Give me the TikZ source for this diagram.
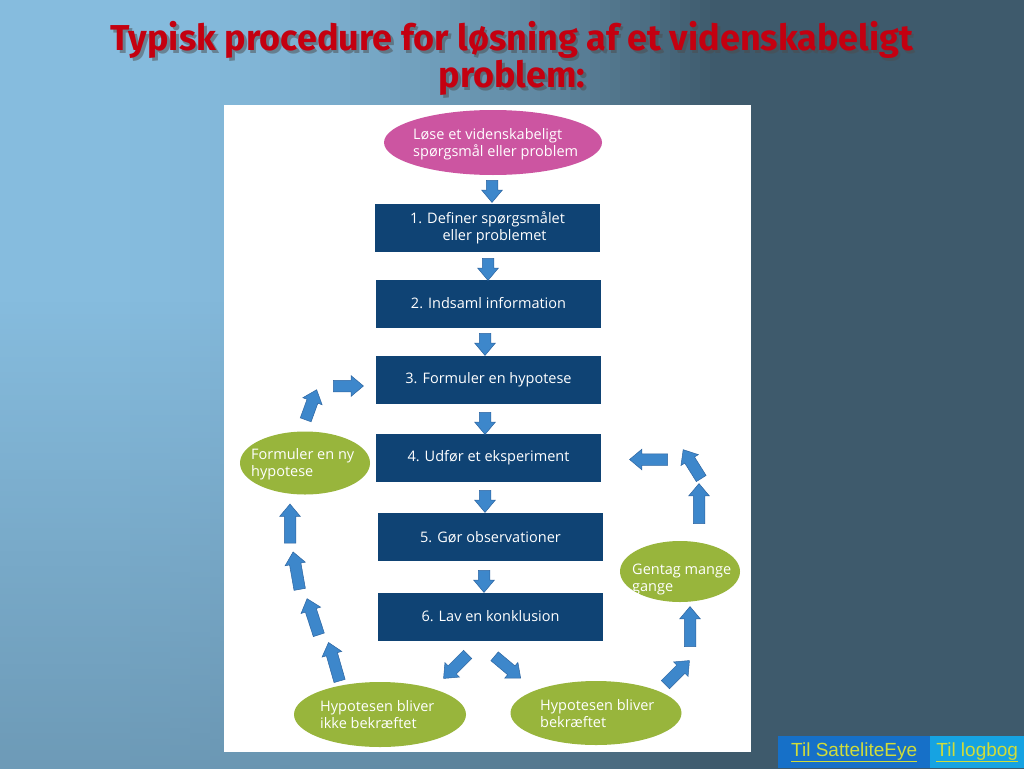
\documentclass[tikz,border=0pt]{standalone}
\usepackage{fontspec}
\setmainfont{Open Sans}
\newfontfamily\titlefont{Fira Sans}
\newfontfamily\linkfont{Liberation Sans}
\usepackage{tikz}
\usetikzlibrary{shapes.geometric,shapes.arrows,fadings}

\definecolor{bgLight}{HTML}{86BCDE}
\definecolor{bgDark}{HTML}{3E5A6C}
\definecolor{titleRed}{HTML}{C40010}
\definecolor{boxNavy}{HTML}{0F4374}
\definecolor{ovalPink}{HTML}{CC55A1}
\definecolor{ovalGreen}{HTML}{98B53C}
\definecolor{arrowBlue}{HTML}{3D87CB}
\definecolor{arrowEdge}{HTML}{2C64A0}
\definecolor{linkBlue}{HTML}{1670C8}
\definecolor{linkCyan}{HTML}{16A3E2}
\definecolor{linkText}{HTML}{D0DC3A}

\begin{document}
\begin{tikzpicture}[x=1pt, y=-1pt,
    stepbox/.style={rectangle, fill=boxNavy, text=white, minimum width=225pt, minimum height=48pt, inner sep=0pt, align=center, font=\fontsize{14.5}{17}\selectfont},
    oval/.style={ellipse, inner sep=0pt},
    ovaltext/.style={anchor=west, text=white, inner sep=0pt, align=left, font=\fontsize{14.5}{17}\selectfont},
    blockarrow/.style={single arrow, draw=arrowEdge, fill=arrowBlue, line width=0.5pt, inner xsep=0pt, inner ysep=5.5pt, minimum width=20pt, single arrow head extend=4.5pt, single arrow tip angle=80, minimum height=#1},
    blockarrow/.default=38pt,
    linkbox/.style={rectangle, inner sep=0pt, minimum height=32pt, text=linkText, font=\linkfont\fontsize{19}{22}\selectfont}]

    % draw background
    \useasboundingbox (0, 0) rectangle (1024, 768);
    \fill[bgLight] (-5, -5) rectangle (121, 773);
    \fill[bgDark] (719, -5) rectangle (1029, 773);
    \foreach \i in {0,...,59} {
        \pgfmathtruncatemacro{\mix}{100-100*(\i/59)^1.8}
        \fill[bgLight!\mix!bgDark] (120+\i*10, -5) rectangle (131+\i*10, 773);
    }
    \fill[bgDark, path fading=north, opacity=0.35] (-10, 300) rectangle (1034, 778);

    % draw title with shadow
    \node[text=black!70, opacity=0.5, align=center, font=\titlefont\bfseries\fontsize{36}{37}\selectfont] (titleShadow) at (514.5, 61) {Typisk procedure for løsning af et videnskabeligt\\problem:};
    \node[text=titleRed, align=center, font=\titlefont\bfseries\fontsize{36}{37}\selectfont] (title) at (512, 58) {Typisk procedure for løsning af et videnskabeligt\\problem:};

    % draw white panel
    \fill[white] (224, 105) rectangle (751, 752);

    % draw start oval
    \node[oval, fill=ovalPink, minimum width=218pt, minimum height=65pt] (start) at (493, 142.5) {};
    \node[ovaltext] (startText) at (413, 144) {Løse et videnskabeligt\\spørgsmål eller problem};

    % draw step boxes
    \node[stepbox] (define) at (487.5, 228) {1. Definer spørgsmålet\\\hspace*{14pt}eller problemet};
    \node[stepbox] (collect) at (488.5, 303.5) {2. Indsaml information};
    \node[stepbox] (hypo) at (488.5, 380) {3. Formuler en hypotese};
    \node[stepbox] (experiment) at (488.5, 458) {4. Udfør et eksperiment};
    \node[stepbox] (observe) at (490.5, 537) {5. Gør observationer};
    \node[stepbox] (conclude) at (490.5, 616.5) {6. Lav en konklusion};

    % draw green ovals
    \node[oval, fill=ovalGreen, minimum width=130pt, minimum height=63pt] (newHypo) at (305, 463) {};
    \node[ovaltext] (newHypoText) at (251, 464) {Formuler en ny\\hypotese};
    \node[oval, fill=ovalGreen, minimum width=172pt, minimum height=65pt] (rejected) at (380, 714.5) {};
    \node[ovaltext] (rejectedText) at (320, 715) {Hypotesen bliver\\ikke bekræftet};
    \node[oval, fill=ovalGreen, minimum width=171pt, minimum height=64pt] (confirmed) at (596, 713) {};
    \node[ovaltext] (confirmedText) at (540, 714) {Hypotesen bliver\\bekræftet};
    \node[oval, fill=ovalGreen, minimum width=120pt, minimum height=61pt] (repeat) at (680, 571.5) {};
    \node[ovaltext] (repeatText) at (632, 579) {Gentag mange\\gange};

    % draw down arrows
    \node[blockarrow=22pt, rotate=-90] (downA) at (492, 188) {};
    \node[blockarrow=22pt, rotate=-90] (downB) at (488, 266) {};
    \node[blockarrow=22pt, rotate=-90] (downC) at (485, 341) {};
    \node[blockarrow=22pt, rotate=-90] (downD) at (485, 420) {};
    \node[blockarrow=22pt, rotate=-90] (downE) at (485, 498) {};
    \node[blockarrow=22pt, rotate=-90] (downF) at (484, 578) {};

    % draw split arrows
    \node[blockarrow=34pt, rotate=-135] (splitL) at (458, 664) {};
    \node[blockarrow=34pt, rotate=-40] (splitR) at (505, 665) {};

    % draw right loop arrows
    \node[blockarrow=34pt, rotate=45] (rightA) at (675, 675) {};
    \node[blockarrow=40pt, rotate=90] (rightB) at (690, 630) {};
    \node[blockarrow=40pt, rotate=90] (rightC) at (699, 507) {};
    \node[blockarrow=34pt, rotate=122] (rightD) at (694, 467) {};
    \node[blockarrow=38pt, rotate=180] (rightE) at (652, 459.5) {};

    % draw left loop arrows
    \node[blockarrow=40pt, rotate=106] (leftA) at (335, 665) {};
    \node[blockarrow=38pt, rotate=108] (leftB) at (314, 620) {};
    \node[blockarrow=38pt, rotate=100] (leftC) at (297, 574) {};
    \node[blockarrow=39pt, rotate=90] (leftD) at (290, 527) {};
    \node[blockarrow=32pt, rotate=70] (leftE) at (310, 408) {};
    \node[blockarrow=30pt] (leftF) at (345, 386) {};

    % draw link buttons
    \node[linkbox, fill=linkBlue, minimum width=152pt, anchor=north west] (linkSat) at (778, 736) {\underline{Til SatteliteEye}};
    \node[linkbox, fill=linkCyan, minimum width=94pt, anchor=north west] (linkLog) at (930, 736) {\underline{Til logbog}};

\end{tikzpicture}
\end{document}
